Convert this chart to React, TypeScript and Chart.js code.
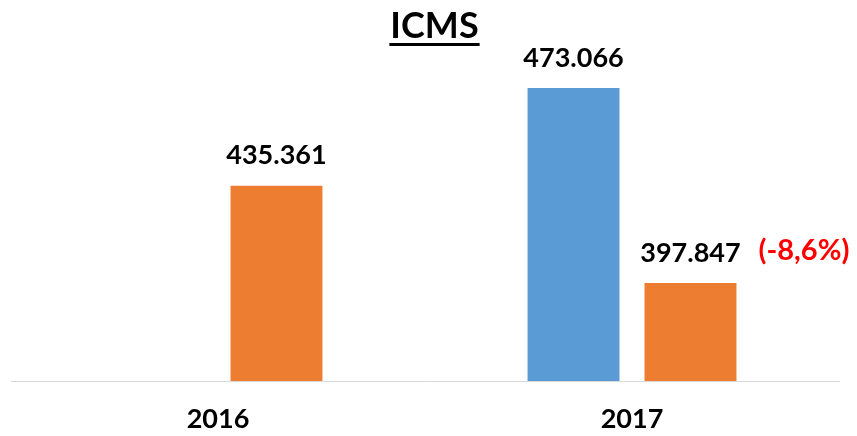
import React, { useEffect, useRef } from "react";
import { Chart, registerables } from "chart.js";

Chart.register(...registerables);

const categories = ["2016", "2017"];
const blueValues: (number | null)[] = [null, 473.066];
const orangeValues: (number | null)[] = [435.361, 397.847];
const blueLabels = ["", "473.066"];
const orangeLabels = ["435.361", "397.847"];
const changeNote = "(-8,6%)";
const titleText = "ICMS";

const FONT = "Lato, 'Open Sans', sans-serif";

const overlayPlugin = {
  id: "overlay",
  afterDatasetsDraw(chart: any) {
    const ctx = chart.ctx;
    ctx.save();
    // title
    ctx.font = `bold 36px ${FONT}`;
    ctx.fillStyle = "#000";
    ctx.textAlign = "center";
    ctx.textBaseline = "middle";
    const cx = chart.width / 2 + 6;
    ctx.fillText(titleText, cx, 26);
    const tw = ctx.measureText(titleText).width;
    ctx.fillRect(cx - tw / 2 - 1, 43, tw + 2, 3);

    // data labels
    ctx.font = `bold 27px ${FONT}`;
    const sets = [blueLabels, orangeLabels];
    sets.forEach((labels, di) => {
      const meta = chart.getDatasetMeta(di);
      meta.data.forEach((bar: any, i: number) => {
        const txt = labels[i];
        if (!txt) return;
        ctx.fillStyle = "#000";
        ctx.textAlign = "center";
        ctx.fillText(txt, bar.x, bar.y - 30);
      });
    });
    // change note next to orange 2017
    const ob = chart.getDatasetMeta(1).data[1];
    ctx.font = `bold 29px ${FONT}`;
    ctx.fillStyle = "#FF0000";
    ctx.textAlign = "left";
    ctx.fillText(changeNote, ob.x + ob.width / 2 + 22, ob.y - 32);
    ctx.restore();
  },
};

export default function App() {
  const ref = useRef<HTMLCanvasElement | null>(null);
  useEffect(() => {
    if (!ref.current) return;
    const chart = new Chart(ref.current, {
      type: "bar",
      data: {
        labels: categories,
        datasets: [
          {
            data: blueValues,
            backgroundColor: "#5B9BD5",
            categoryPercentage: 0.565,
            barPercentage: 0.786,
          },
          {
            data: orangeValues,
            backgroundColor: "#ED7D31",
            categoryPercentage: 0.565,
            barPercentage: 0.786,
          },
        ],
      },
      options: {
        animation: false,
        responsive: false,
        maintainAspectRatio: false,
        layout: { padding: { left: 11, right: 18, top: 70, bottom: 0 } },
        plugins: {
          legend: { display: false },
          title: { display: false },
          tooltip: { enabled: false },
        },
        scales: {
          x: {
            grid: { display: false, drawTicks: false },
            border: { display: true, color: "#D9D9D9", width: 1 },
            afterFit(scale: any) {
              scale.height = 55;
            },
            ticks: {
              color: "#000",
              padding: 22,
              font: { family: FONT, size: 27, weight: "bold" },
            },
          },
          y: {
            display: false,
            min: 360,
            max: 480,
          },
        },
      },
      plugins: [overlayPlugin],
    });
    return () => chart.destroy();
  }, []);
  return (
    <div style={{ position: "fixed", left: 0, top: 0, width: 857, height: 436, background: "#fff" }}>
      <canvas ref={ref} width={857} height={436} />
    </div>
  );
}
